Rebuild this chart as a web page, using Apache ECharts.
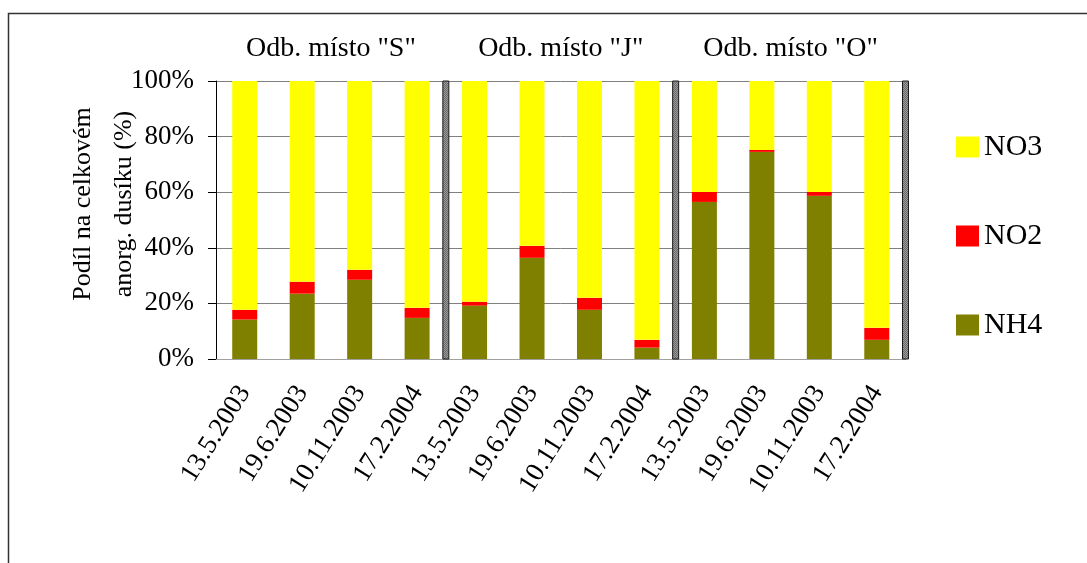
<!DOCTYPE html>
<html>
<head>
<meta charset="utf-8">
<script src="https://cdn.jsdelivr.net/npm/echarts@6/dist/echarts.min.js"></script>
<style>
  html, body { margin: 0; padding: 0; background: #fff; }
  #chart { width: 1087px; height: 563px; }
</style>
</head>
<body>
<div id="chart"></div>
<script>
// Sampling dates, repeated for each sampling site
const categories = [
  '13.5.2003', '19.6.2003', '10.11.2003', '17.2.2004',
  '13.5.2003', '19.6.2003', '10.11.2003', '17.2.2004',
  '13.5.2003', '19.6.2003', '10.11.2003', '17.2.2004'
];
const siteLabels = ['Odb. místo "S"', 'Odb. místo "J"', 'Odb. místo "O"'];
const datesPerSite = 4;

// Share of total inorganic nitrogen (%)
const nh4 = [14.2, 23.5, 28.5, 14.8, 19.2, 36.4, 17.7, 4.1, 56.5, 74.5, 58.7, 6.9];
const no2 = [3.5, 4.3, 3.6, 3.6, 1.4, 4.3, 4.3, 2.8, 3.6, 0.7, 1.4, 4.3];
const no3 = [82.3, 72.2, 67.9, 81.6, 79.4, 59.3, 78.0, 93.1, 39.9, 24.8, 39.9, 88.8];

const yTicks = [0, 20, 40, 60, 80, 100];

// Site separators sit on category boundaries after each group of dates
const separators = siteLabels.map((_, i) => (i + 1) * datesPerSite);

const serif = '"Liberation Serif", "Times New Roman", serif';

// small checker pattern for the separator columns
const pat = document.createElement('canvas');
pat.width = 2; pat.height = 2;
const pctx = pat.getContext('2d');
pctx.fillStyle = '#9a9a9a'; pctx.fillRect(0, 0, 2, 2);
pctx.fillStyle = '#6a6a6a'; pctx.fillRect(0, 0, 1, 1); pctx.fillRect(1, 1, 1, 1);

const chart = echarts.init(document.getElementById('chart'), null, { renderer: 'canvas' });

chart.setOption({
  animation: false,
  backgroundColor: '#fff',
  textStyle: { fontFamily: serif, color: '#000' },
  graphic: [{
    type: 'rect',
    shape: { x: 8.5, y: 13.5, width: 1200, height: 700 },
    style: { fill: 'none', stroke: '#333', lineWidth: 1.5 },
    silent: true,
    z: -10
  }],
  grid: { left: 216, top: 81, right: 181.5, bottom: 204, containLabel: false },
  legend: {
    orient: 'vertical',
    left: 951,
    top: 127,
    itemWidth: 23,
    itemHeight: 21,
    itemGap: 59,
    icon: 'rect',
    data: ['NO3', 'NO2', 'NH4'],
    textStyle: { fontFamily: serif, fontSize: 30, lineHeight: 30, color: '#000' }
  },
  xAxis: [
    {
      type: 'category',
      data: categories,
      position: 'bottom',
      axisLine: { lineStyle: { color: '#a0a0a0', width: 1 } },
      axisTick: { show: false },
      axisLabel: {
        interval: 0,
        rotate: 58,
        margin: 29,
        fontFamily: serif,
        fontSize: 27,
        color: '#000'
      }
    },
    {
      type: 'category',
      data: siteLabels,
      position: 'top',
      axisLine: { show: false },
      axisTick: { show: false },
      splitLine: { show: false },
      axisLabel: { margin: 18, fontFamily: serif, fontSize: 28, color: '#000' }
    },
    {
      type: 'value',
      min: 0,
      max: categories.length,
      show: false
    }
  ],
  yAxis: {
    type: 'value',
    min: yTicks[0],
    max: yTicks[yTicks.length - 1],
    interval: 20,
    name: 'Podíl na celkovém\nanorg. dusíku (%)',
    nameLocation: 'middle',
    nameRotate: 90,
    nameGap: 71,
    nameMoveOverlap: false,
    nameTextStyle: {
      fontFamily: serif,
      fontSize: 26,
      lineHeight: 41,
      color: '#000',
      padding: [0, 0, 0, 32]
    },
    axisLine: { show: true, lineStyle: { color: '#000', width: 1 } },
    axisTick: { show: true, inside: false, length: 8, lineStyle: { color: '#000' } },
    axisLabel: {
      margin: 22,
      fontFamily: serif,
      fontSize: 27,
      color: '#000',
      formatter: '{value}%'
    },
    splitLine: { show: true, lineStyle: { color: '#808080', width: 1 } }
  },
  series: [
    {
      name: 'NH4', type: 'bar', stack: 'N', data: nh4, barWidth: 25,
      itemStyle: { color: '#808000' }
    },
    {
      name: 'NO2', type: 'bar', stack: 'N', data: no2, barWidth: 25,
      itemStyle: { color: '#ff0000' }
    },
    {
      name: 'NO3', type: 'bar', stack: 'N', data: no3, barWidth: 25,
      itemStyle: { color: '#ffff00' }
    },
    {
      name: 'separator',
      type: 'custom',
      xAxisIndex: 2,
      yAxisIndex: 0,
      data: separators.map(v => [v]),
      silent: true,
      z: 5,
      renderItem: function (params, api) {
        const top = api.coord([api.value(0), yTicks[yTicks.length - 1]]);
        const bottom = api.coord([api.value(0), yTicks[0]]);
        const w = 6;
        return {
          type: 'rect',
          shape: { x: top[0] - w / 2, y: top[1], width: w, height: bottom[1] - top[1] },
          style: {
            fill: { image: pat, repeat: 'repeat' },
            stroke: '#1a1a1a',
            lineWidth: 1
          }
        };
      }
    }
  ]
});
</script>
</body>
</html>
